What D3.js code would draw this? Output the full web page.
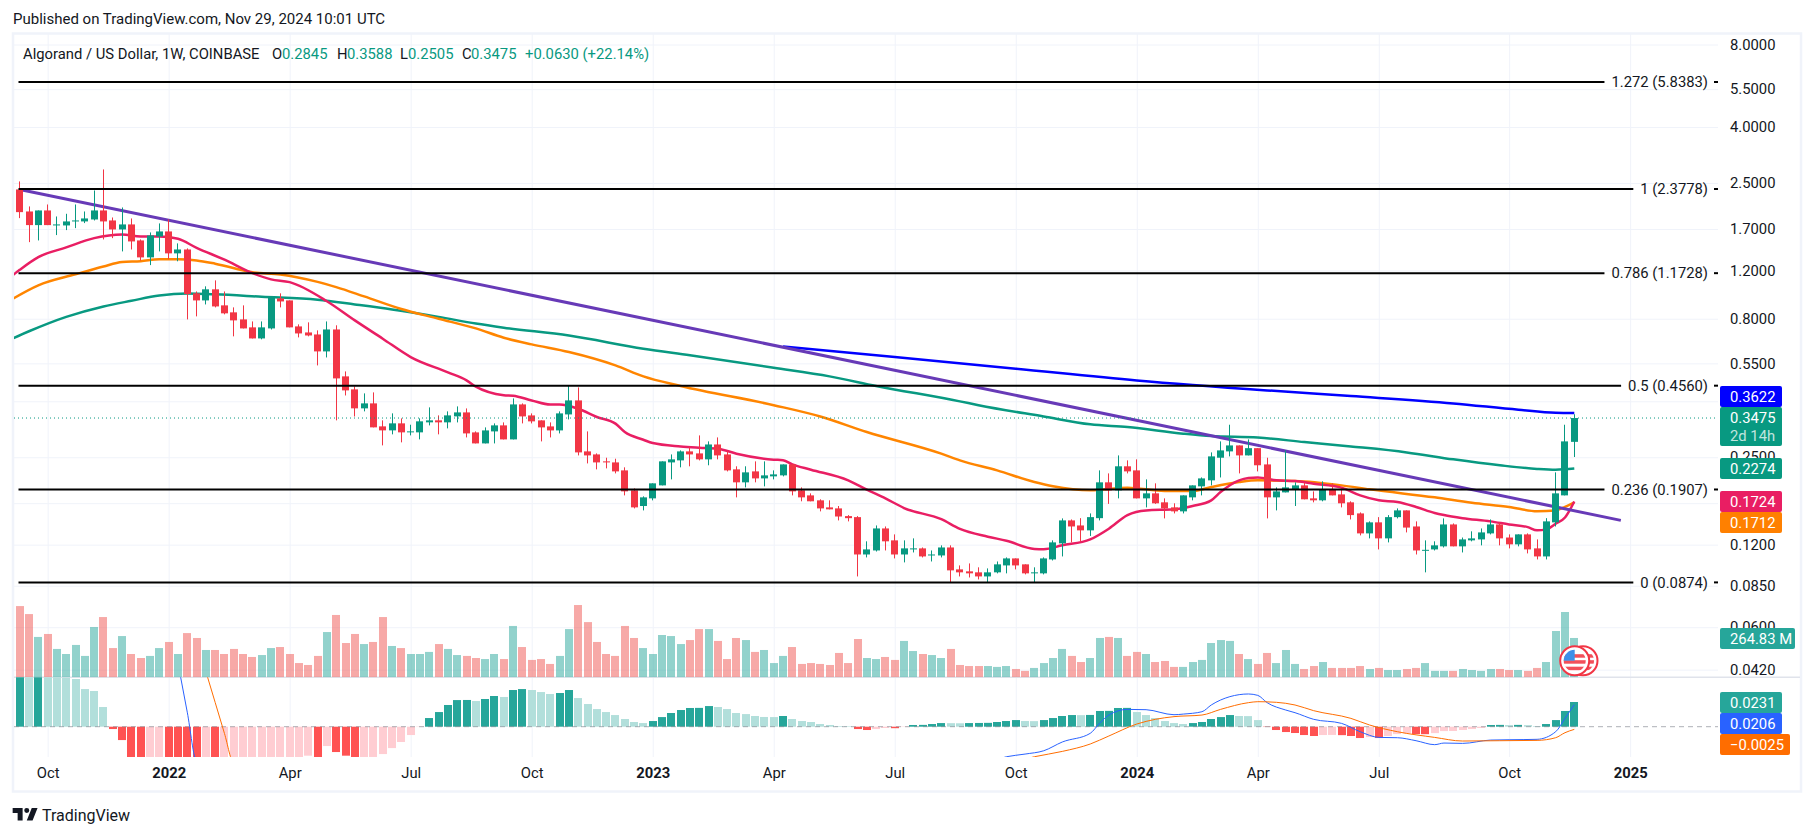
<!DOCTYPE html>
<html><head><meta charset="utf-8">
<script src="https://cdn.jsdelivr.net/npm/d3@7/dist/d3.min.js"></script>
<style>
html,body{margin:0;padding:0;background:#fff;overflow:hidden}
text{font-family:Roboto,"Liberation Sans",sans-serif}
</style></head><body><svg id="c" width="1814" height="836"></svg>
<script>
// ---- data -------------------------------------------------------------
const firstWeek = "2021-09-13"; // candle week 0; the arrays below begin one week earlier (clipped at the pane edge)
const opens = [1.305,2.369,1.969,1.756,1.986,1.751,1.751,1.811,1.811,1.841,
1.986,1.826,1.693,1.766,1.544,1.339,1.596,1.665,1.385,1.431,
.990,.933,1.024,.895,.844,.7955,.744,.678,.7375,.949,
.933,.750,.713,.701,.608,.731,.493,.442,.3769,.393,
.324,.3133,.3323,.3081,.3081,.3351,.3408,.3351,.3523,.3643,
.3080,.2808,.3106,.3267,.2904,.3896,.3552,.3407,.3239,.3132,
.3582,.4029,.2626,.2560,.2415,.2394,.2239,.1893,.1660,.1770,
.1974,.2394,.2435,.2626,.2582,.2456,.2783,.2560,.2258,.2025,
.2220,.2093,.2129,.2147,.2354,.1893,.1815,.1741,.1641,.1627,
.1525,.1512,.1105,.1143,.1375,.1244,.1105,.1153,.1163,.1096,
.1096,.1172,.0975,.0959,.0951,.0919,.0951,.1008,.1069,.1017,
.0943,.0943,.1060,.1213,.1471,.1410,.1353,.1499,.2025,.1893,
.2317,.2239,.1770,.1846,.1712,.1641,.1587,.1785,.1958,.2059,
.2490,.2626,.2761,.2539,.2698,.2354,.1785,.1861,.1909,.1974,
.1770,.1741,.1909,.1830,.1712,.1560,.1319,.1447,.1265,.1512,
.1600,.1398,.1143,.1153,.1183,.1422,.1183,.1244,.1254,.1319,
.1422,.1274,.1203,.1308,.1163,.1087,.1447,.1815,.2845];
const highs = [2.369,2.534,2.054,1.986,2.088,1.888,1.931,2.088,1.969,2.349,
2.802,1.872,2.036,1.857,1.557,1.651,1.781,1.841,1.506,1.444,
1.006,1.050,1.104,1.006,.880,.895,.782,.782,.965,.990,
.933,.763,.776,.7254,.782,.757,.514,.453,.4274,.431,
.3408,.3614,.3465,.3285,.3465,.380,.3553,.3675,.3831,.3767,
.3106,.3212,.3322,.3350,.4097,.3929,.3613,.3407,.3350,.3674,
.4570,.4494,.3106,.2582,.2490,.2469,.2297,.1925,.1800,.2008,
.2415,.2560,.2648,.2721,.3003,.2856,.2953,.2626,.2317,.2317,
.2415,.2415,.2239,.2354,.2354,.1941,.1846,.1756,.1741,.1660,
.1538,.1525,.1234,.1410,.1398,.1308,.1244,.1265,.1172,.1143,
.1193,.1193,.1008,.1025,.0992,.0983,.1042,.1078,.1069,.1017,
.0992,.1078,.1244,.1496,.1483,.1499,.1560,.2239,.2183,.2539,
.2435,.2456,.2076,.2008,.1770,.1698,.1815,.1974,.2110,.2604,
.2856,.3285,.2761,.2904,.2698,.2490,.1941,.2648,.2025,.2025,
.1877,.2042,.2008,.1941,.1727,.1573,.1459,.1512,.1538,.1627,
.1600,.1459,.1244,.1234,.1496,.1434,.1274,.1342,.1375,.1483,
.1447,.1308,.1308,.1319,.1254,.1499,.2202,.3285,.3588];
const lows = [1.305,1.862,1.522,1.544,1.756,1.615,1.684,1.712,1.786,1.826,
1.557,1.574,1.408,1.431,1.305,1.255,1.408,1.320,1.296,.7955,
.816,.902,.880,.830,.690,.7375,.678,.673,.731,.880,
.744,.684,.690,.5406,.578,.3408,.420,.352,.3675,.3213,
.2762,.303,.2833,.3004,.2905,.3267,.303,.3186,.3350,.2953,
.2808,.2808,.2808,.2904,.2904,.3322,.3322,.2856,.2953,.3054,
.3435,.2539,.2374,.2258,.2277,.2183,.1815,.1627,.1600,.1741,
.1974,.2076,.2297,.2317,.2435,.2337,.2456,.2220,.1785,.1941,
.2025,.1958,.2076,.2129,.1815,.1727,.1727,.1587,.1614,.1471,
.1459,.0919,.1078,.1133,.1143,.1069,.1034,.1124,.1078,.1042,
.1078,.0874,.0919,.0911,.0896,.0874,.0943,.0943,.0975,.0935,
.0874,.0935,.1051,.1087,.1223,.1234,.1291,.1471,.1690,.1770,
.2183,.1770,.1641,.1690,.1496,.1560,.1560,.1741,.1815,.1974,
.2110,.2518,.2183,.2539,.2220,.1496,.1600,.1861,.1660,.1756,
.1712,.1727,.1815,.1641,.1483,.1297,.1265,.1153,.1223,.1496,
.1330,.1105,.0951,.1143,.1172,.1183,.1124,.1234,.1193,.1308,
.1193,.1163,.1183,.1115,.1060,.1060,.1398,.1815,.2505];
const closes = [2.369,1.958,1.756,1.986,1.756,1.766,1.811,1.826,1.857,1.986,
1.811,1.693,1.766,1.531,1.339,1.610,1.665,1.385,1.431,.984,
.933,1.024,.887,.837,.789,.7375,.678,.744,.957,.925,
.744,.707,.695,.608,.731,.4847,.4383,.3769,.393,.3213,
.3133,.3323,.3081,.3107,.338,.3408,.3351,.3553,.3643,.3054,
.2808,.3132,.3267,.2904,.3896,.3523,.3379,.3212,.3132,.3613,
.4029,.2604,.2539,.2394,.2394,.2220,.1877,.1641,.1785,.2008,
.2415,.2456,.2626,.2560,.2456,.2783,.2539,.2239,.2025,.2202,
.2093,.2147,.2165,.2354,.1877,.1785,.1727,.1627,.1614,.1520,
.1499,.1105,.1153,.1375,.1234,.1105,.1163,.1163,.1087,.1105,
.1172,.0967,.0951,.0943,.0919,.0951,.1017,.1069,.1008,.0943,
.0951,.1069,.1223,.1471,.1398,.1353,.1512,.2025,.1893,.2317,
.2220,.1770,.1846,.1698,.1627,.1587,.1815,.1974,.2093,.2518,
.2648,.2761,.2539,.2698,.2337,.1785,.1877,.1941,.1974,.1756,
.1741,.1909,.1815,.1698,.1538,.1319,.1447,.1265,.1512,.1600,
.1385,.1143,.1149,.1193,.1422,.1183,.1254,.1265,.1330,.1422,
.1265,.1203,.1308,.1153,.1087,.1459,.1846,.2856,.3475];
const volumes = [480,480,426,272,292,191,157,218,144,339,
406,197,278,157,130,144,197,238,157,298,
265,184,184,157,191,157,137,150,197,204,
157,96,83,144,305,420,231,292,224,238,
406,211,197,157,157,171,224,191,150,144,
130,123,157,123,346,204,117,123,90,144,
325,487,372,238,157,144,346,265,197,157,
285,278,224,251,325,325,245,123,265,251,
171,184,96,144,204,90,96,90,83,164,
96,258,130,123,137,117,245,177,157,150,
130,191,83,76,76,76,70,76,56,43,
63,96,130,191,144,103,130,265,272,265,
144,171,157,103,110,70,70,103,117,231,
251,245,157,123,90,164,96,184,90,56,
76,103,63,63,63,76,56,63,49,49,
56,63,96,43,43,43,56,49,43,56,
56,49,49,43,63,103,312,440,265];
const macdHist = [.0500,.0520,.0510,.0530,.0500,.0480,.0460,.0446,.0352,.0334,
.0184,-.0022,-.0125,-.0300,-.0340,-.0330,-.0320,-.0350,-.0380,-.0400,
-.0420,-.0410,-.0430,-.0420,-.0410,-.0400,-.0390,-.0380,-.0370,-.0360,
-.0350,-.0300,-.0271,-.0290,-.0181,-.0237,-.0271,-.0290,-.0285,-.0283,
-.0256,-.0200,-.0143,-.0078,-.0003,.0081,.0137,.0203,.0249,.0250,
.0240,.0259,.0287,.0278,.0343,.0352,.0343,.0324,.0306,.0315,
.0343,.0268,.0212,.0165,.0137,.0109,.0072,.0044,.0034,.0053,
.0090,.0128,.0156,.0175,.0176,.0193,.0184,.0165,.0128,.0118,
.0100,.0091,.0090,.0100,.0072,.0053,.0044,.0025,.0016,.0006,
.0005,-.0022,-.0031,-.0022,-.0012,-.0014,-.0003,.0016,.0017,.0025,
.0034,.0033,.0032,.0034,.0035,.0036,.0044,.0053,.0062,.0053,
.0052,.0062,.0081,.0100,.0109,.0108,.0110,.0147,.0148,.0175,
.0176,.0137,.0109,.0081,.0053,.0034,.0025,.0034,.0044,.0072,
.0090,.0109,.0100,.0099,.0062,-.0003,-.0031,-.0050,-.0059,-.0078,
-.0087,-.0078,-.0077,-.0079,-.0087,-.0106,-.0097,-.0106,-.0087,-.0069,
-.0062,-.0069,-.0070,-.0060,-.0041,-.0040,-.0031,-.0022,-.0012,.0016,
.0017,.0016,.0017,.0015,.0006,.0025,.0062,.0147,.0231];

const maRedWeeks = [-1,0,2,5,8,11,13,15,17,19,22,25,27,29,33,36,39,42,46,48,49,52,53,55,57,58,60,62,64,65,67,68,71,73,75,77,81,82,83,85,89,91,93,95,99,101,104,106,109,110,112,115,117,119,121,124,126,128,129,131,132,133,135,137,139,142,144,146,148,150,152,153,155,158,160,162,163,164,165,166,167];
const maRed = [1.135,1.206,1.342,1.456,1.574,1.623,1.596,1.596,1.565,1.451,1.313,1.173,1.113,1.088,.9269,.7889,.6766,.5799,.51,.4766,.4524,.4210,.4190,.4029,.3891,.3891,.3755,.3505,.3315,.3088,.2896,.2816,.2737,.2708,.2685,.2576,.2449,.2440,.2354,.2252,.2059,.1904,.1770,.1632,.1486,.1370,.1283,.1240,.1158,.1155,.1193,.1254,.1372,.1538,.1600,.1614,.1660,.1741,.1866,.2059,.2100,.2110,.2059,.2048,.2003,.1937,.1815,.1741,.1717,.1647,.1565,.1538,.1499,.1459,.1422,.1390,.1353,.1364,.1430,.1507,.1724];
const maOrangeWeeks = [-1,2,6,9,11,13,15,17,19,21,25,28,32,34,37,41,45,49,52,55,59,64,67,71,81,86,91,99,101,105,109,111,115,119,123,126,128,131,133,137,142,145,152,156,160,163,165,166,167];
const maOrange = [.935,1.059,1.162,1.241,1.288,1.297,1.318,1.318,1.305,1.270,1.182,1.16,1.09,1.043,.965,.868,.80,.7375,.682,.6449,.6048,.5406,.4930,.4548,.3871,.3520,.3089,.2576,.2436,.2239,.2030,.1958,.1893,.1937,.1882,.1882,.1947,.2030,.2059,.2048,.1974,.1909,.1785,.1707,.1647,.1590,.1600,.1647,.1712];
const maGreenWeeks = [-1,1,5,9,12,15,18,21,26,32,36,40,45,49,52,59,67,72,81,87,92,101,103,110,115,119,125,128,133,138,143,149,154,159,163,165,167];
const maGreen = [.672,.72,.8125,.887,.93,.972,.988,.982,.962,.938,.902,.865,.8125,.768,.742,.6945,.6218,.5884,.5300,.493,.455,.3997,.3871,.3520,.3295,.3222,.3047,.2986,.2950,.2840,.2737,.2604,.2456,.2337,.2267,.2252,.2274];
const maBlueWeeks = [82,94,107,120,134,143,154,161,165,167];
const maBlue = [.634,.580,.526,.4767,.4382,.4179,.3929,.3725,.3630,.3622];
const trendWeeks = [0,172];
const trendPrices = [2.369,.1471];
const macdWeeks = [17,18,19,40,70,100,106,108,110,112,115,116,117,119,121,124,125,127,128,130,132,133,134,136,137,139,142,144,146,148,150,152,153,155,158,160,163,165,166,167];
const macdLine = [.0596,.0136,-.0325,-.09,-.08,-.05,-.0281,-.0256,-.0225,-.0143,-.0062,.0031,.0109,.0162,.0159,.0112,.0118,.0140,.0203,.0281,.0306,.0293,.0225,.0156,.0131,.0069,.0031,-.0047,-.0100,-.0103,-.0131,-.0168,-.0153,-.0156,-.0125,-.0122,-.0118,-.0047,.0078,.0206];
const signalWeeks = [20,21,22,23,40,70,100,109,112,115,117,120,122,124,127,129,132,133,135,137,139,143,145,148,152,155,159,163,165,166,167];
const signalLine = [.0516,.0226,-.0064,-.035,-.08,-.08,-.05,-.0281,-.0231,-.0162,-.0087,.0025,.0069,.0094,.0109,.0162,.0225,.0234,.0228,.0203,.0150,.0078,.0016,-.0047,-.0100,-.0134,-.0131,-.0128,-.0103,-.0056,-.0025];
const fibLevels = [5.8383,2.3778,1.1728,.4560,.1907,.0874];
const fibNames = ["1.272 (5.8383)","1 (2.3778)","0.786 (1.1728)","0.5 (0.4560)","0.236 (0.1907)","0 (0.0874)"];
const gridPrices = [8,5.5,4,2.5,1.7,1.2,.8,.55,.4,.25,.17,.12,.085,.06,.042];
const priceLabels = [8,5.5,4,2.5,1.7,1.2,.8,.55,.25,.12,.085,.06,.042];
const timeTicks = ["2021-10-04","2022-01-03","2022-04-04","2022-07-04","2022-10-03","2023-01-02","2023-04-03","2023-07-03","2023-10-02","2024-01-01","2024-04-01","2024-07-01","2024-10-07","2025-01-06"];
const timeLabels = ["Oct","2022","Apr","Jul","Oct","2023","Apr","Jul","Oct","2024","Apr","Jul","Oct","2025"];
const lastPrice = .3475;
const legendName = "Algorand / US Dollar, 1W, COINBASE";
const legendKeys = ["O","H","L","C"];
const legendVals = ["0.2845","0.3588","0.2505","0.3475"];
const legendChange = "+0.0630 (+22.14%)";
const stampText = "Published on TradingView.com, Nov 29, 2024 10:01 UTC";
const badgeTexts = ["0.3622","0.3475","0.2274","0.1724","0.1712","264.83 M","0.0231","0.0206","−0.0025"];

// ---- layout -----------------------------------------------------------
const L = 14, R = 1718, T = 34, PANE = 677.3, BOT = 757, FS = 14.8;
const UP="#089981", DOWN="#f23645", INK="#131722", GRID="#f0f3fa";
const svg = d3.select("#c");
const defs = svg.append("defs");
const clip=(id,x,y,w,h)=>defs.append("clipPath").attr("id",id).append("rect").attr("x",x).attr("y",y).attr("width",w).attr("height",h);
clip("pMain",L,T,R-L,PANE-T); clip("pMacd",L,PANE,R-L,BOT-PANE);
const DAY=864e5, t0=new Date(firstWeek+"T00:00:00Z").getTime();
const weekDate=k=>new Date(t0+k*7*DAY);
const x=d3.scaleTime().domain([weekDate(0),weekDate(167)]).range([19.7,1574.3]);
const xw=k=>x(weekDate(k));
const y=d3.scaleLog().domain([.0874,2.3778]).range([582.4,189]);
const yVol=d3.scaleLinear().domain([0,264.83]).range([PANE,638]);
const yMacd=d3.scaleLinear().domain([0,.0231]).range([726.7,702]);

// frame
svg.append("rect").attr("x",13).attr("y",33.5).attr("width",1788).attr("height",758).attr("fill","none").attr("stroke",GRID).attr("stroke-width",2.5);

// grids via axes
const gx=svg.append("g").attr("transform",`translate(0,${BOT})`)
 .call(d3.axisBottom(x).tickValues(timeTicks.map(d=>new Date(d+"T00:00:00Z"))).tickSize(-(BOT-T)).tickFormat(""));
gx.select(".domain").remove(); gx.selectAll("line").attr("stroke",GRID);
const gy=svg.append("g").attr("transform",`translate(${L},0)`)
 .call(d3.axisRight(y).tickValues(gridPrices).tickSize(R-L).tickFormat(""));
gy.select(".domain").remove(); gy.selectAll("line").attr("stroke",GRID);

// pane separator
svg.append("line").attr("x1",L).attr("x2",1800).attr("y1",PANE).attr("y2",PANE).attr("stroke","#e0e3eb").attr("stroke-width",1.5);

// price axis labels
const ay=svg.append("g").attr("transform","translate(1730,0)")
 .call(d3.axisRight(y).tickValues(priceLabels).tickSize(0).tickPadding(0).tickFormat(d3.format(".4f")));
ay.select(".domain").remove();
ay.selectAll("text").attr("font-size",FS).attr("fill",INK).attr("font-family","Roboto");

// time axis labels
const ax=svg.append("g").attr("transform",`translate(0,767)`)
 .call(d3.axisBottom(x).tickValues(timeTicks.map(d=>new Date(d+"T00:00:00Z"))).tickSize(0).tickPadding(0).tickFormat((d,i)=>timeLabels[i]));
ax.select(".domain").remove();
ax.selectAll("text").attr("font-size",FS).attr("fill",INK).attr("font-family","Roboto")
 .attr("font-weight",(d,i)=>/^\d/.test(timeLabels[i])?700:400);

const main=svg.append("g").attr("clip-path","url(#pMain)");

// volume bars
main.append("g").selectAll("rect").data(volumes).join("rect")
 .attr("x",(d,i)=>Math.round(xw(i-1)-4)).attr("width",8)
 .attr("y",d=>yVol(d)).attr("height",d=>PANE-yVol(d))
 .attr("fill",(d,i)=>closes[i]>=opens[i]?"#26a69a":"#ef5350").attr("fill-opacity",.5);

// dotted last price
svg.append("line").attr("x1",L).attr("x2",R).attr("y1",y(lastPrice)).attr("y2",y(lastPrice))
 .attr("stroke",UP).attr("stroke-dasharray","1 3").attr("stroke-width",1);

// fib lines and labels
const fib=svg.append("g");
fibLevels.forEach((p,i)=>{
  const py=y(p);
  const t=fib.append("text").attr("x",1708).attr("y",py).attr("dy","0.35em").attr("text-anchor","end")
    .attr("font-size",FS).attr("fill",INK).text(fibNames[i]);
  const w=t.node().getComputedTextLength();
  fib.append("line").attr("x1",18.5).attr("x2",1708-w-7).attr("y1",py).attr("y2",py).attr("stroke","#000").attr("stroke-width",2);
  fib.append("line").attr("x1",1714).attr("x2",1718).attr("y1",py).attr("y2",py).attr("stroke","#000").attr("stroke-width",2);
});

// trend line + moving averages
const priceLine=d3.line().x(d=>xw(d[0])).y(d=>y(d[1])).curve(d3.curveMonotoneX);
const drawLine=(g,wk,vals,col,w,gen)=>g.append("path").datum(wk.map((k,i)=>[k,vals[i]])).attr("d",gen).attr("fill","none")
 .attr("stroke",col).attr("stroke-width",w).attr("stroke-linejoin","round");
drawLine(main,maGreenWeeks,maGreen,"#089981",2.5,priceLine);
drawLine(main,maOrangeWeeks,maOrange,"#ff8500",2.5,priceLine);
drawLine(main,maRedWeeks,maRed,"#e91e63",2.5,priceLine);
drawLine(main,maBlueWeeks,maBlue,"#0000ff",2.5,priceLine);
drawLine(main,trendWeeks,trendPrices,"#673ab7",3,d3.line().x(d=>xw(d[0])).y(d=>y(d[1])));

// candles
const cg=main.append("g");
cg.selectAll(".w").data(highs).join("rect").attr("class","w")
 .attr("x",(d,i)=>Math.round(xw(i-1)-.5)).attr("width",1)
 .attr("y",d=>y(d)).attr("height",(d,i)=>y(lows[i])-y(d))
 .attr("fill",(d,i)=>closes[i]>=opens[i]?UP:DOWN);
cg.selectAll(".b").data(opens).join("rect").attr("class","b")
 .attr("x",(d,i)=>Math.round(xw(i-1)-.5)-3).attr("width",7)
 .attr("y",(d,i)=>y(Math.max(d,closes[i])))
 .attr("height",(d,i)=>Math.max(1,Math.abs(y(d)-y(closes[i]))))
 .attr("fill",(d,i)=>closes[i]>=opens[i]?UP:DOWN);

// MACD
const mg=svg.append("g").attr("clip-path","url(#pMacd)");
const histColor=(d,i)=>{const p=i?macdHist[i-1]:d;return d>=0?(d>p?"#26a69a":"#b2dfdb"):(d<p?"#ff5252":"#ffcdd2");};
mg.selectAll("rect").data(macdHist).join("rect")
 .attr("x",(d,i)=>Math.round(xw(i-1)-4)).attr("width",8)
 .attr("y",d=>Math.min(yMacd(d),yMacd(0))).attr("height",d=>Math.abs(yMacd(d)-yMacd(0)))
 .attr("fill",histColor);
mg.append("line").attr("x1",L).attr("x2",R).attr("y1",yMacd(0)).attr("y2",yMacd(0)).attr("stroke","#787b86").attr("stroke-opacity",.6).attr("stroke-dasharray","5 4");
const macdGen=d3.line().x(d=>xw(d[0])).y(d=>yMacd(d[1])).curve(d3.curveMonotoneX);
drawLine(mg,macdWeeks,macdLine,"#2962ff",1,macdGen);
drawLine(mg,signalWeeks,signalLine,"#ff6d00",1,macdGen);

// coin icon on the volume pane
const coin=(cx,cy)=>{
 const id="f"+Math.round(cx);
 defs.append("clipPath").attr("id",id).append("circle").attr("cx",cx).attr("cy",cy).attr("r",11);
 const g=svg.append("g");
 g.append("circle").attr("cx",cx).attr("cy",cy).attr("r",14.5).attr("fill","#fff").attr("stroke","#f23645").attr("stroke-width",2);
 const f=g.append("g").attr("clip-path",`url(#${id})`);
 f.append("rect").attr("x",cx-12).attr("y",cy-12).attr("width",24).attr("height",24).attr("fill","#fff");
 [-6.5,-.5,6].forEach(d=>f.append("rect").attr("x",cx-12).attr("y",cy+d).attr("width",24).attr("height",3.5).attr("fill","#f2505a"));
 f.append("rect").attr("x",cx-12).attr("y",cy-12).attr("width",12).attr("height",12).attr("fill","#3d8fe8");
};
coin(1583,660.7); coin(1574.7,660.7);

// badges on the axis
const badge=(txt,top,h,w,col,sub)=>{
 svg.append("rect").attr("x",1720).attr("y",top).attr("width",w).attr("height",h).attr("rx",2).attr("fill",col);
 svg.append("text").attr("x",1730).attr("y",top+(sub?10.5:h/2)).attr("dy","0.35em").attr("font-size",FS).attr("fill","#fff").text(txt);
 if(sub) svg.append("text").attr("x",1730).attr("y",top+29).attr("dy","0.35em").attr("font-size",FS).attr("fill","#fff").attr("fill-opacity",.75).text(sub);
};
badge(badgeTexts[0],386,21,62,"#0000ff");
badge(badgeTexts[1],407,39,62,UP,"2d 14h");
badge(badgeTexts[2],458,21,62,UP);
badge(badgeTexts[3],491,21,62,"#e91e63");
badge(badgeTexts[4],512,21,62,"#ff8000");
badge(badgeTexts[5],628,21,75,"#26a69a");
badge(badgeTexts[6],692,21,62,"#26a69a");
badge(badgeTexts[7],713,21,62,"#2962ff");
badge(badgeTexts[8],734,21,70,"#ff6d00");

// header text
const T2=(s,xp,yp,col,size)=>svg.append("text").attr("x",xp).attr("y",yp).attr("dy","0.35em").attr("font-size",size||FS).attr("fill",col||INK).text(s);
T2(stampText,13,19,INK,15);
T2(legendName,23,53.5);
const kx=[272,337,400,462], vx=[282,347,408,471];
legendKeys.forEach((k,i)=>{T2(k,kx[i],53.5); T2(legendVals[i],vx[i],53.5,UP);});
T2(legendChange,525,53.5,UP);

// logo and wordmark
svg.append("path").attr("transform","translate(11,803) scale(.83)").attr("fill",INK)
 .attr("d","M14 6H2v6h6v9h6V6Zm12 15h-7l6-15h7l-6 15Zm-7-9a3 3 0 1 0 0-6 3 3 0 0 0 0 6Z");
T2("TradingView",42,815,INK,16);
</script></body></html>
